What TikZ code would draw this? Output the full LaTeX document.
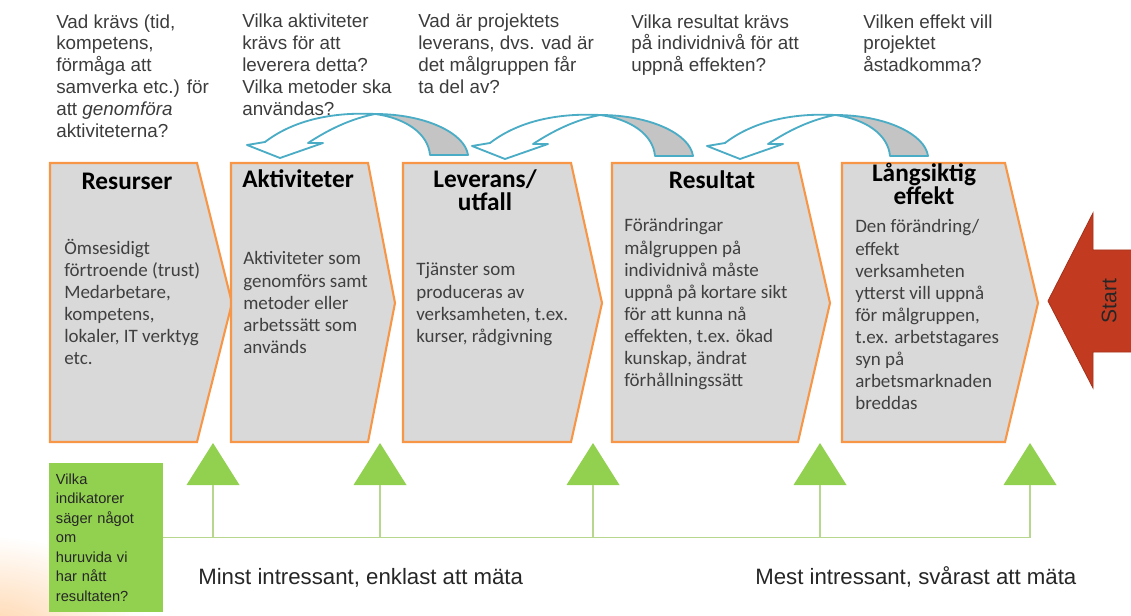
\documentclass[tikz,border=0pt]{standalone}
\usepackage{fontspec}
\setmainfont{Liberation Sans}
\newfontfamily\calibri{Carlito}
\usetikzlibrary{positioning}
\definecolor{boxgray}{HTML}{D9D9D9}
\definecolor{boxorange}{HTML}{F79646}
\definecolor{curlblue}{HTML}{4BACC6}
\definecolor{curlgray}{HTML}{C4C4C4}
\definecolor{trigreen}{HTML}{92D050}
\definecolor{stemgreen}{HTML}{B7D78E}
\definecolor{startred}{HTML}{C23B21}
\definecolor{qgray}{HTML}{3C3C3C}
\definecolor{bodygray}{HTML}{404040}
\newcommand\tightlines{\lineskiplimit=-20pt\relax}
\begin{document}
\begin{tikzpicture}[x=0.025cm,y=-0.025cm,
  box/.style={draw=boxorange,fill=boxgray,line width=1.5pt,line join=miter},
  question/.style={anchor=base west,inner sep=0,align=left,text=qgray,font=\fontsize{13.4}{15.6}\selectfont},
  title/.style={anchor=base,inner sep=0,align=center,font=\calibri\fontsize{18}{16.6}\selectfont\bfseries\tightlines},
  body/.style={anchor=base west,inner sep=0,align=left,text=bodygray,font=\calibri\fontsize{13.5}{15.7}\selectfont},
  tri/.style={fill=trigreen},
  stem/.style={draw=stemgreen,line width=1.3pt},
  ind/.style={fill=trigreen,minimum width=2.85cm,minimum height=3.725cm,text width=2.5cm,align=left,inner sep=0,font=\fontsize{10.4}{13.9}\selectfont,text=black!85},
  curl/.pic={
    \filldraw[fill=white,draw=curlblue,line width=1.3pt,line join=round] (-15,-16) .. controls (15,-39) and (55,-46) .. (95,-44) .. controls (65,-38) and (42,-24) .. (28,-15) -- (43,-15) -- (0,0) -- (-33,-13) -- cycle;
    \filldraw[fill=curlgray,draw=curlblue,line width=1.3pt,line join=round] (95,-44) .. controls (145,-44) and (185,-25) .. (188,-3) -- (150,-3) .. controls (148,-25) and (125,-40) .. (95,-44) -- cycle;
  }]
\useasboundingbox (0,0) rectangle (1131,616);
\begin{scope}
  \clip (0,0) rectangle (1131,616);
  \shade[inner color=orange!35,outer color=white] (-10,640) ellipse [x radius=4cm,y radius=2.6cm];
\end{scope}

\node[question] (q1) at (56,137.7) {Vad krävs (tid,\\kompetens,\\förmåga att\\samverka etc.) för\\att \textit{genomföra}\\aktiviteterna?};
\node[question] (q2) at (242,115.7) {Vilka aktiviteter\\krävs för att\\leverera detta?\\Vilka metoder ska\\användas?};
\node[question] (q3) at (418,93.8) {Vad är projektets\\leverans, dvs. vad är\\det målgruppen får\\ta del av?};
\node[question] (q4) at (631,71.9) {Vilka resultat krävs\\på individnivå för att\\uppnå effekten?};
\node[question] (q5) at (863,71.9) {Vilken effekt vill\\projektet\\åstadkomma?};

\draw[box] (50,163) -- (197,163) -- (232,303) -- (197,442) -- (50,442) -- cycle;
\draw[box] (231,163) -- (368,163) -- (395,303) -- (368,442) -- (231,442) -- cycle;
\draw[box] (403,163) -- (571,163) -- (602,303) -- (571,442) -- (403,442) -- cycle;
\draw[box] (612,163) -- (798,163) -- (830,303) -- (798,442) -- (612,442) -- cycle;
\draw[box] (842,163) -- (1005,163) -- (1038,303) -- (1005,442) -- (842,442) -- cycle;

\pic at (280,158) {curl};
\pic at (505,159) {curl};
\pic at (740,159) {curl};

\node[title] (t1) at (127,190) {Resurser};
\node[title,anchor=base west] (t2) at (242,188) {Aktiviteter};
\node[title] (t3) at (485,210.5) {Leverans/\\utfall};
\node[title] (t4) at (712,189) {Resultat};
\node[title] (t5) at (924,204.5) {Långsiktig\\effekt};

\node[body] (b1) at (64,364.4) {Ömsesidigt\\förtroende (trust)\\Medarbetare,\\kompetens,\\lokaler, IT verktyg\\etc.};
\node[body] (b2) at (243,353.3) {Aktiviteter som\\genomförs samt\\metoder eller\\arbetssätt som\\används};
\node[body] (b3) at (416,342.2) {Tjänster som\\produceras av\\verksamheten, t.ex.\\kurser, rådgivning};
\node[body] (b4) at (624,386.5) {Förändringar\\målgruppen på\\individnivå måste\\uppnå på kortare sikt\\för att kunna nå\\effekten, t.ex. ökad\\kunskap, ändrat\\förhållningssätt};
\node[body] (b5) at (855,409.6) {Den förändring/\\effekt\\verksamheten\\ytterst vill uppnå\\för målgruppen,\\t.ex. arbetstagares\\syn på\\arbetsmarknaden\\breddas};

\filldraw[fill=startred,draw=startred!85!black,line width=0.6pt] (1131,250) -- (1093,250) -- (1093,213) -- (1048,301) -- (1093,388) -- (1093,352) -- (1131,352);
\node[rotate=90,font=\fontsize{15}{18}\selectfont,text=black!85] (start) at (1109,301) {Start};

\fill[tri] (213,443) -- (239.5,485) -- (186.5,485) -- cycle;
\fill[tri] (380,443) -- (406.5,485) -- (353.5,485) -- cycle;
\fill[tri] (593,443) -- (619.5,485) -- (566.5,485) -- cycle;
\fill[tri] (820,443) -- (846.5,485) -- (793.5,485) -- cycle;
\fill[tri] (1030,443) -- (1056.5,485) -- (1003.5,485) -- cycle;
\coordinate (s1) at (213,485);
\coordinate (s2) at (380,485);
\coordinate (s3) at (593,485);
\coordinate (s4) at (820,485);
\coordinate (s5) at (1030,485);

\node[ind] (ind) at (106,537.5) {Vilka\\indikatorer\\säger något\\om\\huruvida vi\\har nått\\resultaten?};
\draw[stem] (ind.east) -- (s5 |- ind.east);
\draw[stem] (s1) -- (s1 |- ind.east);
\draw[stem] (s2) -- (s2 |- ind.east);
\draw[stem] (s3) -- (s3 |- ind.east);
\draw[stem] (s4) -- (s4 |- ind.east);
\draw[stem] (s5) -- (s5 |- ind.east);

\node[anchor=base west,inner sep=0,font=\fontsize{15.8}{18}\selectfont,text=black!85] (low) at (198,584) {Minst intressant, enklast att mäta};
\node[anchor=base west,inner sep=0,font=\fontsize{15.8}{18}\selectfont,text=black!85] (high) at (755,584) {Mest intressant, svårast att mäta};
\end{tikzpicture}
\end{document}
